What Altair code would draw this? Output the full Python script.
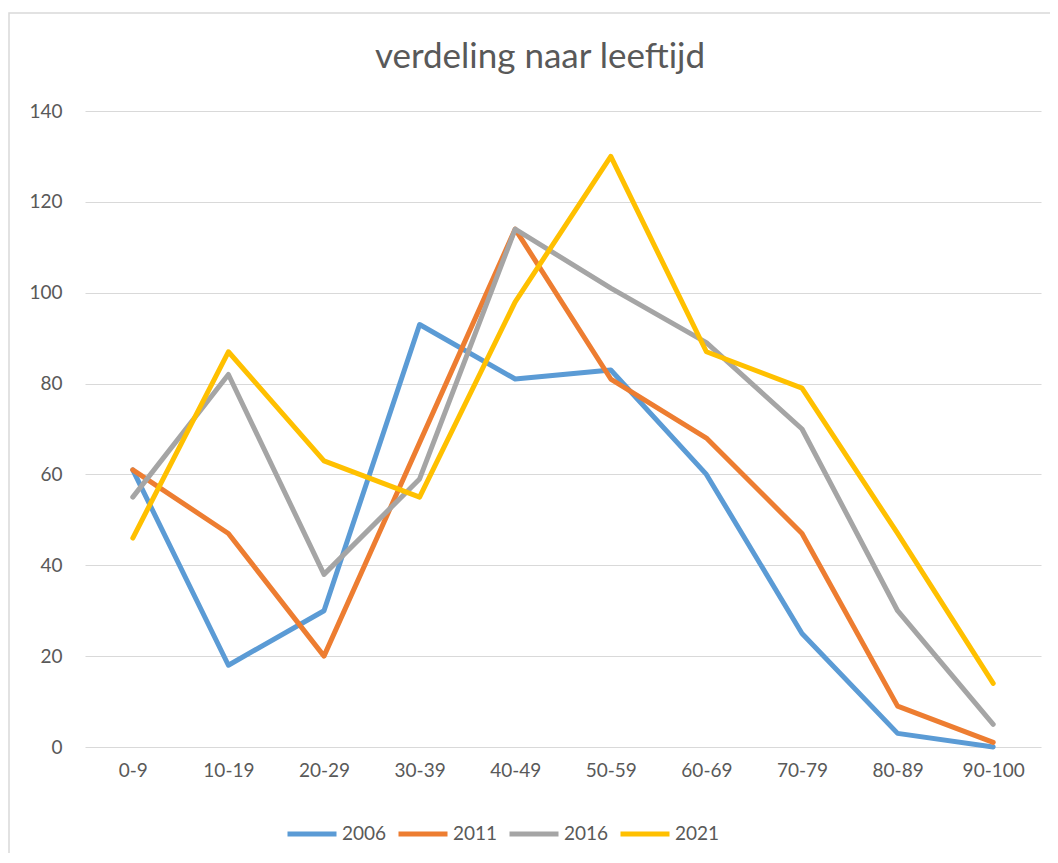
import altair as alt
import pandas as pd

categories = ["0-9", "10-19", "20-29", "30-39", "40-49", "50-59", "60-69", "70-79", "80-89", "90-100"]
series_names = ["2006", "2011", "2016", "2021"]
v2006 = [61, 18, 30, 93, 81, 83, 60, 25, 3, 0]
v2011 = [61, 47, 20, 67, 114, 81, 68, 47, 9, 1]
v2016 = [55, 82, 38, 59, 114, 101, 89, 70, 30, 5]
v2021 = [46, 87, 63, 55, 98, 130, 87, 79, 47, 14]
colors = ["#5B9BD5", "#ED7D31", "#A5A5A5", "#FFC000"]
title_text = "verdeling naar leeftijd"

rows = []
for name, vals in zip(series_names, [v2006, v2011, v2016, v2021]):
    for c, v in zip(categories, vals):
        rows.append({"leeftijd": c, "jaar": name, "aantal": v})
df = pd.DataFrame(rows)

FONT = "Lato"
TXT = "#595959"
W, H = 956, 636

lines = alt.Chart(df).mark_line(
    strokeWidth=5, strokeCap="round", strokeJoin="round"
).encode(
    x=alt.X("leeftijd:N", sort=categories,
            scale=alt.Scale(type="point", padding=0.5),
            axis=alt.Axis(title=None, labelAngle=0, ticks=False, domain=False,
                          grid=False, labelPadding=14, labelFontSize=19,
                          labelColor=TXT, labelFont=FONT)),
    y=alt.Y("aantal:Q", scale=alt.Scale(domain=[0, 140], nice=False),
            axis=alt.Axis(title=None, values=[0, 20, 40, 60, 80, 100, 120, 140],
                          ticks=False, domain=False, gridColor="#d9d9d9",
                          gridWidth=1.2, labelPadding=23, labelFontSize=19,
                          labelColor=TXT, labelFont=FONT)),
    color=alt.Color("jaar:N", sort=series_names,
                    scale=alt.Scale(domain=series_names, range=colors),
                    legend=alt.Legend(title=None, orient="none", direction="horizontal",
                                      legendX=200, legendY=696,
                                      symbolType="stroke", symbolSize=2401,
                                      symbolStrokeWidth=5, labelFontSize=19,
                                      labelColor=TXT, labelFont=FONT,
                                      labelOffset=3, columnPadding=1, padding=0)),
)

border = alt.Chart(pd.DataFrame({"k": [0]})).mark_rect(
    fill=None, stroke="#d9d9d9", strokeWidth=1.5, clip=False
).encode(x=alt.value(-76), x2=alt.value(1100), y=alt.value(-98), y2=alt.value(900))

title = alt.Chart(pd.DataFrame({"t": [title_text]})).mark_text(
    font=FONT, fontSize=35, color=TXT, align="center", baseline="alphabetic"
).encode(text="t:N", x=alt.value(455), y=alt.value(-43))

chart = alt.layer(border, lines, title).properties(
    width=W, height=H,
    background="white",
    autosize=alt.AutoSizeParams(type="none"),
    padding={"left": 77, "top": 103, "right": 9, "bottom": 106},
).configure_view(stroke=None)

chart.save("out.html", embed_options={"renderer": "svg", "actions": False})
